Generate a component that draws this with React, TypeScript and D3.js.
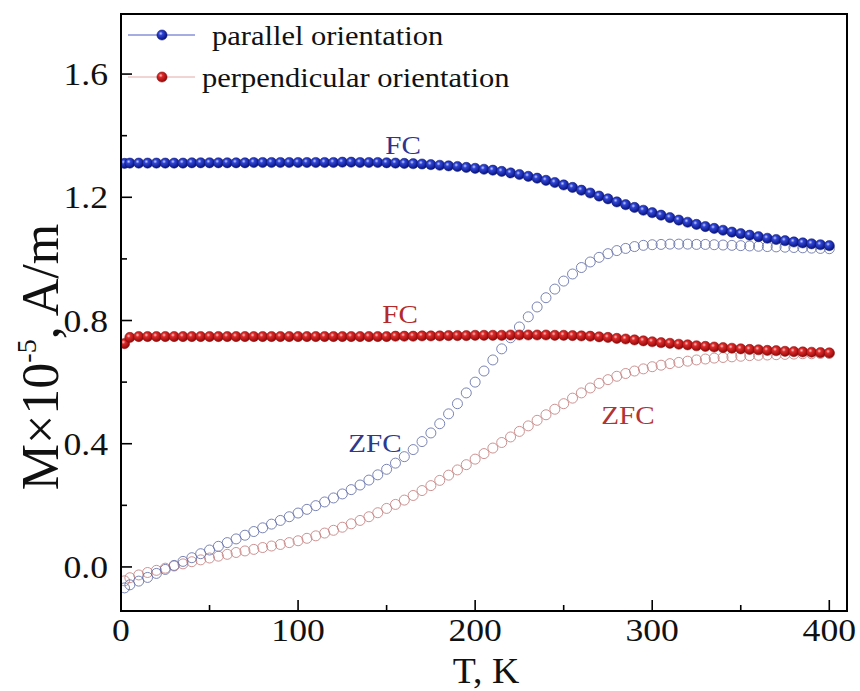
import React from "react";
import * as d3 from "d3";

const temps = [2,5,10,15,20,25,30,35,40,45,50,55,60,65,70,75,80,85,90,95,100,105,110,115,120,125,130,135,140,145,150,155,160,165,170,175,180,185,190,195,200,205,210,215,220,225,230,235,240,245,250,255,260,265,270,275,280,285,290,295,300,305,310,315,320,325,330,335,340,345,350,355,360,365,370,375,380,385,390,395,400];

const parallelFC = [
  1.310,1.311,1.311,1.311,1.311,1.311,1.311,1.311,1.312,1.312,
  1.312,1.312,1.312,1.312,1.312,1.313,1.313,1.313,1.313,1.313,
  1.313,1.313,1.313,1.313,1.313,1.314,1.314,1.313,1.313,1.313,
  1.312,1.311,1.310,1.309,1.308,1.306,1.304,1.302,1.300,1.297,
  1.294,1.291,1.288,1.284,1.279,1.274,1.268,1.262,1.255,1.248,
  1.240,1.232,1.223,1.214,1.204,1.195,1.185,1.176,1.167,1.158,
  1.150,1.142,1.134,1.126,1.119,1.112,1.105,1.099,1.093,1.087,
  1.082,1.077,1.072,1.067,1.063,1.059,1.055,1.052,1.049,1.046,
  1.043];

const parallelZFC = [
  -0.068,-0.058,-0.046,-0.034,-0.021,-0.008,0.005,0.018,0.030,0.043,
  0.055,0.067,0.079,0.091,0.103,0.115,0.127,0.139,0.151,0.163,
  0.175,0.187,0.199,0.211,0.224,0.237,0.251,0.266,0.282,0.299,
  0.317,0.337,0.358,0.381,0.407,0.435,0.465,0.497,0.530,0.565,
  0.600,0.636,0.672,0.708,0.744,0.779,0.812,0.844,0.874,0.902,
  0.928,0.951,0.972,0.990,1.005,1.017,1.027,1.034,1.040,1.044,
  1.046,1.047,1.048,1.048,1.048,1.047,1.047,1.046,1.045,1.044,
  1.043,1.042,1.041,1.040,1.039,1.038,1.037,1.036,1.035,1.034,
  1.033];

const perpendicularFC = [
  0.725,0.745,0.748,0.748,0.748,0.748,0.748,0.748,0.748,0.748,
  0.748,0.748,0.748,0.748,0.748,0.748,0.748,0.748,0.748,0.748,
  0.748,0.748,0.748,0.748,0.748,0.748,0.748,0.748,0.748,0.748,
  0.748,0.749,0.749,0.749,0.750,0.750,0.750,0.751,0.751,0.751,
  0.752,0.752,0.752,0.752,0.753,0.753,0.753,0.753,0.753,0.752,
  0.752,0.751,0.750,0.749,0.747,0.745,0.742,0.740,0.737,0.734,
  0.731,0.728,0.726,0.723,0.721,0.718,0.716,0.714,0.712,0.710,
  0.708,0.706,0.705,0.703,0.702,0.700,0.699,0.698,0.697,0.696,
  0.695];

const perpendicularZFC = [
  -0.045,-0.035,-0.026,-0.018,-0.011,-0.004,0.003,0.010,0.017,0.023,
  0.029,0.035,0.041,0.047,0.052,0.057,0.063,0.068,0.073,0.079,
  0.085,0.093,0.101,0.110,0.119,0.129,0.140,0.151,0.163,0.176,
  0.190,0.203,0.217,0.232,0.248,0.264,0.281,0.298,0.315,0.332,
  0.350,0.368,0.386,0.404,0.422,0.440,0.458,0.476,0.494,0.512,
  0.530,0.548,0.565,0.581,0.596,0.608,0.619,0.628,0.636,0.643,
  0.650,0.655,0.660,0.664,0.668,0.672,0.675,0.678,0.680,0.682,
  0.684,0.686,0.687,0.688,0.689,0.690,0.691,0.692,0.692,0.693,
  0.693];

const xMajorTicks = [0, 100, 200, 300, 400];
const xMinorTicks = [50, 150, 250, 350];
const yMajorTicks = [0.0, 0.4, 0.8, 1.2, 1.6];
const yMinorTicks = [0.2, 0.6, 1.0, 1.4];
const legendLabels = ["parallel orientation", "perpendicular orientation"];

const FONT = "Liberation Serif, Times New Roman, serif";

function SText(props: any) {
  const { x, y, anchor = "start", size, sx = 1.12, fill = "#111", children } = props;
  return (
    <text
      transform={`translate(${x},${y}) scale(${sx},1)`}
      textAnchor={anchor}
      fontSize={size}
      fontFamily={FONT}
      fill={fill}
    >
      {children}
    </text>
  );
}

export default function App() {
  const W = 860, H = 691;
  const L = 121, R = 847, Top = 14, Bot = 611;
  const x = d3.scaleLinear().domain([0, 410]).range([L, R]);
  const y = d3.scaleLinear().domain([-0.143, 1.795]).range([Bot, Top]);

  const pts = (vals: number[]) => temps.map((t, i) => [x(t), y(vals[i])] as [number, number]);
  const line = d3.line<[number, number]>();

  const rFC = 5.1;
  const rZ = 5.0;

  return (
    <svg width={W} height={H} style={{ position: "absolute", left: 0, top: 0, background: "#fff" }}>
      <defs>
        <radialGradient id="gBlue" cx="38%" cy="35%" r="65%">
          <stop offset="0%" stopColor="#c8d0ff" />
          <stop offset="30%" stopColor="#2f44d4" />
          <stop offset="100%" stopColor="#08137e" />
        </radialGradient>
        <radialGradient id="gRed" cx="38%" cy="35%" r="65%">
          <stop offset="0%" stopColor="#ffc8c8" />
          <stop offset="30%" stopColor="#dc2a2a" />
          <stop offset="100%" stopColor="#920808" />
        </radialGradient>
        <clipPath id="plotClip">
          <rect x={L} y={Top} width={R - L} height={Bot - Top} />
        </clipPath>
      </defs>
      <rect x={0} y={0} width={W} height={H} fill="#fff" />

      <g clipPath="url(#plotClip)">
        {pts(perpendicularZFC).map((p, i) => (
          <circle key={"pz" + i} cx={p[0]} cy={p[1]} r={rZ} fill="none" stroke="#c48080" strokeWidth={1} opacity={0.85} />
        ))}
        {pts(parallelZFC).map((p, i) => (
          <circle key={"bz" + i} cx={p[0]} cy={p[1]} r={rZ} fill="none" stroke="#6470a8" strokeWidth={1} opacity={0.85} />
        ))}
        <path d={line(pts(perpendicularFC)) || ""} fill="none" stroke="#c02020" strokeWidth={1} />
        <path d={line(pts(parallelFC)) || ""} fill="none" stroke="#2030c0" strokeWidth={1} />
        {pts(perpendicularFC).map((p, i) => (
          <circle key={"pf" + i} cx={p[0]} cy={p[1]} r={rFC} fill="url(#gRed)" stroke="#8a0808" strokeWidth={0.5} />
        ))}
        {pts(parallelFC).map((p, i) => (
          <circle key={"bf" + i} cx={p[0]} cy={p[1]} r={rFC} fill="url(#gBlue)" stroke="#0a1470" strokeWidth={0.5} />
        ))}
      </g>

      <rect x={L} y={Top} width={R - L} height={Bot - Top} fill="none" stroke="#000" strokeWidth={2} />

      {xMajorTicks.map((t) => (
        <line key={"xM" + t} x1={x(t)} x2={x(t)} y1={Bot} y2={Bot - 11} stroke="#000" strokeWidth={1.6} />
      ))}
      {xMinorTicks.map((t) => (
        <line key={"xm" + t} x1={x(t)} x2={x(t)} y1={Bot} y2={Bot - 6} stroke="#000" strokeWidth={1.6} />
      ))}
      {yMajorTicks.map((t) => (
        <line key={"yM" + t} x1={L} x2={L + 11} y1={y(t)} y2={y(t)} stroke="#000" strokeWidth={1.6} />
      ))}
      {yMinorTicks.map((t) => (
        <line key={"ym" + t} x1={L} x2={L + 6} y1={y(t)} y2={y(t)} stroke="#000" strokeWidth={1.6} />
      ))}

      {xMajorTicks.map((t) => (
        <SText key={"xl" + t} x={x(t)} y={641} anchor="middle" size={31} sx={1.15}>{String(t)}</SText>
      ))}
      {yMajorTicks.map((t) => (
        <SText key={"yl" + t} x={108} y={y(t) + 11} anchor="end" size={31} sx={1.15}>{t.toFixed(1)}</SText>
      ))}

      <SText x={486} y={683} anchor="middle" size={36} sx={1.05}>T, K</SText>
      <text transform="translate(58,357) rotate(-90)" textAnchor="middle" fontSize={52} fontFamily={FONT} fill="#111">
        M×10<tspan dy={-22} fontSize={28}>-5</tspan><tspan dy={22}>, A/m</tspan>
      </text>

      <SText x={403} y={154} anchor="middle" size={26} fill="#2a3690">FC</SText>
      <SText x={400} y={323} anchor="middle" size={26} fill="#b32a2a">FC</SText>
      <SText x={375} y={452} anchor="middle" size={26} fill="#2c3a90">ZFC</SText>
      <SText x={628} y={424} anchor="middle" size={26} fill="#b03535">ZFC</SText>

      <line x1={128} x2={195} y1={35} y2={35} stroke="#4a5ac4" strokeWidth={1} />
      <circle cx={162} cy={35} r={rFC} fill="url(#gBlue)" stroke="#0a1470" strokeWidth={0.5} />
      <SText x={212} y={45} size={28} sx={1.09}>{legendLabels[0]}</SText>
      <line x1={128} x2={195} y1={77} y2={77} stroke="#e2a8a8" strokeWidth={1} />
      <circle cx={162} cy={77} r={rFC} fill="url(#gRed)" stroke="#8a0808" strokeWidth={0.5} />
      <SText x={202} y={87} size={28} sx={1.09}>{legendLabels[1]}</SText>
    </svg>
  );
}
